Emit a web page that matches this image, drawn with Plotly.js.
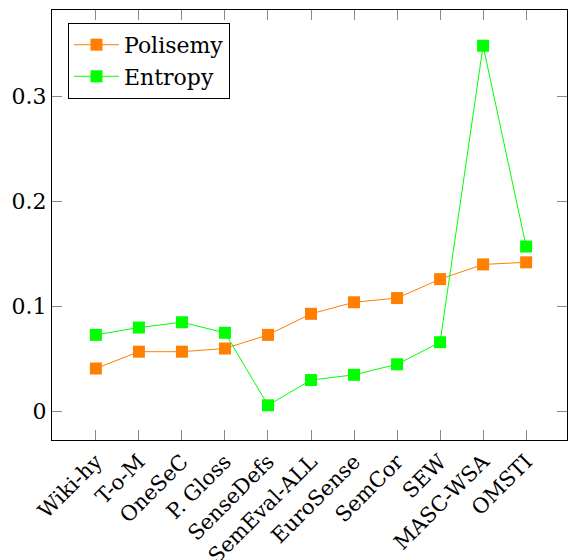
<!DOCTYPE html>
<html>
<head>
<meta charset="utf-8">
<script src="https://cdn.plot.ly/plotly-3.0.1.min.js"></script>
<style>html,body{margin:0;padding:0;background:#fff;}#chart{width:568px;height:560px;}</style>
</head>
<body>
<div id="chart"></div>
<script>
const categories = ["Wiki-hy","T-o-M","OneSeC","P. Gloss","SenseDefs","SemEval-ALL","EuroSense","SemCor","SEW","MASC-WSA","OMSTI"];
const polisemy = [0.041,0.057,0.057,0.060,0.073,0.093,0.104,0.108,0.126,0.140,0.142];
const entropy  = [0.073,0.080,0.085,0.075,0.006,0.030,0.035,0.045,0.066,0.348,0.157];
const yTicks = [0,0.1,0.2,0.3];

const idx = categories.map((c,i)=>i);
const font = "DejaVu Serif";

const traces = [
  {x: idx, y: polisemy, name: "Polisemy", type: "scatter", mode: "lines+markers",
   line: {color: "#FF7F00", width: 1}, marker: {symbol: "square", size: 12, color: "#FF7F00"}},
  {x: idx, y: entropy, name: "Entropy", type: "scatter", mode: "lines+markers",
   line: {color: "#00FF00", width: 1}, marker: {symbol: "square", size: 12, color: "#00FF00"}}
];

const layout = {
  width: 568, height: 560,
  margin: {l: 52, r: 1, t: 10, b: 120},
  paper_bgcolor: "#fff", plot_bgcolor: "#fff",
  font: {family: font, size: 21, color: "#000"},
  showlegend: true,
  legend: {x: 0.031, y: 0.97, xanchor: "left", yanchor: "top",
    bgcolor: "#fff", bordercolor: "#000", borderwidth: 1, itemwidth: 45,
    font: {family: font, size: 22, color: "#000"}, tracegroupgap: 0},
  xaxis: {range: [-1.02, 10.95], tickmode: "array", tickvals: idx, ticktext: categories,
    tickangle: -45, ticks: "inside", ticklen: 10, tickcolor: "#888", tickwidth: 1,
    showline: true, linecolor: "#000", linewidth: 1, mirror: "ticks",
    showgrid: false, zeroline: false, tickfont: {family: font, size: 21}},
  yaxis: {range: [-0.027, 0.382], tickmode: "array", tickvals: yTicks, ticktext: ["0","0.1","0.2","0.3"],
    ticks: "inside", ticklen: 10, tickcolor: "#888", tickwidth: 1,
    showline: true, linecolor: "#000", linewidth: 1, mirror: "ticks",
    showgrid: false, zeroline: false, tickfont: {family: font, size: 22}}
};

Plotly.newPlot("chart", traces, layout, {staticPlot: true, displayModeBar: false});
</script>
</body>
</html>
